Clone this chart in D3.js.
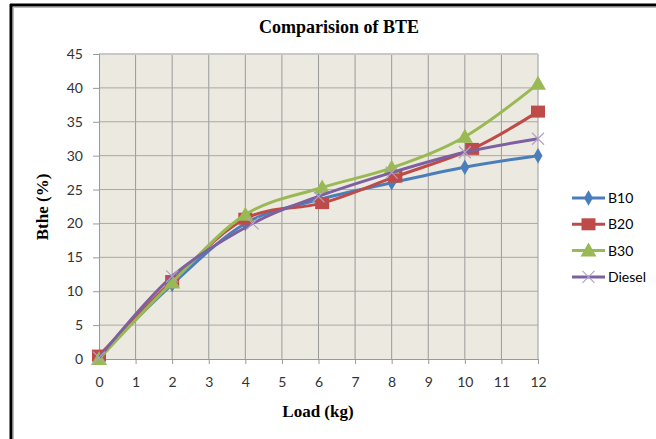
<!DOCTYPE html>
<html>
<head>
<meta charset="utf-8">
<script src="https://cdn.jsdelivr.net/npm/d3@7"></script>
<style>
  body { margin: 0; background: #fff; }
  .tick text { font-family: Lato, "Open Sans", sans-serif; font-size: 14px; fill: #333; }
  .ttl { font-family: "Liberation Serif", "Times New Roman", serif; font-weight: bold; fill: #000; }
  .leg { font-family: Lato, "Open Sans", sans-serif; font-size: 14px; fill: #000; }
</style>
</head>
<body>
<script>
var loads = [0, 2, 4, 6, 8, 10, 12];
var b10 = [0.3, 11, 20, 23.5, 26, 28.3, 30];
var b20x = [0, 2, 4, 6.1, 8.1, 10.2, 12];
var b20 = [0.5, 11.5, 20.7, 23, 26.9, 31, 36.5];
var b30x = [0, 2, 4, 6.1, 8, 10, 12];
var b30 = [0, 11.3, 21.3, 25.3, 28.2, 32.8, 40.6];
var dieselx = [0, 2, 4.2, 6, 8, 10, 12];
var diesel = [0.2, 12.2, 20, 24, 27.5, 30.5, 32.5];
var xTicks = d3.range(0, 13);
var yTicks = d3.range(0, 50, 5);

var width = 656, height = 439;
var plot = { left: 99, right: 538, top: 54, bottom: 359 };

var svg = d3.select('body').append('svg')
    .attr('width', width)
    .attr('height', height);

// frame
svg.append('rect').attr('x', 0).attr('y', 0).attr('width', width).attr('height', height).attr('fill', '#fff');
svg.append('line').attr('x1', 11).attr('x2', 11).attr('y1', 4).attr('y2', height).attr('stroke', '#000').attr('stroke-width', 3);
svg.append('line').attr('x1', 10).attr('x2', width).attr('y1', 5).attr('y2', 5).attr('stroke', '#000').attr('stroke-width', 3);
svg.append('line').attr('x1', 13.5).attr('x2', 13.5).attr('y1', 7).attr('y2', height).attr('stroke', '#bbb').attr('stroke-width', 1);
svg.append('line').attr('x1', 13).attr('x2', width).attr('y1', 7.5).attr('y2', 7.5).attr('stroke', '#bbb').attr('stroke-width', 1);

var x = d3.scaleLinear().domain([0, 12]).range([plot.left, plot.right]);
var y = d3.scaleLinear().domain([0, 45]).range([plot.bottom, plot.top]);

svg.append('rect')
    .attr('x', plot.left).attr('y', plot.top)
    .attr('width', plot.right - plot.left).attr('height', plot.bottom - plot.top)
    .attr('fill', '#ECE9E0');

// grid
svg.append('g').selectAll('line.v').data(xTicks.slice(1)).enter().append('line')
    .attr('x1', function(d) { return x(d); }).attr('x2', function(d) { return x(d); })
    .attr('y1', plot.top).attr('y2', plot.bottom)
    .attr('stroke', '#9a9a9a').attr('stroke-width', 1);
svg.append('g').selectAll('line.h').data(yTicks.slice(1)).enter().append('line')
    .attr('x1', plot.left).attr('x2', plot.right)
    .attr('y1', function(d) { return y(d); }).attr('y2', function(d) { return y(d); })
    .attr('stroke', function(d) { return d === 45 ? '#c8c8c8' : '#a8a8a8'; })
    .attr('stroke-width', function(d) { return d === 45 ? 2 : 1; });

// axes
var xAxis = svg.append('g')
    .attr('transform', 'translate(0,' + plot.bottom + ')')
    .call(d3.axisBottom(x).tickValues(xTicks).tickSize(5).tickPadding(13));
var yAxis = svg.append('g')
    .attr('transform', 'translate(' + plot.left + ',0)')
    .call(d3.axisLeft(y).tickValues(yTicks).tickSize(6).tickPadding(10));
[xAxis, yAxis].forEach(function(a) {
  a.select('.domain').attr('stroke', '#999');
  a.selectAll('.tick line').attr('stroke', '#999');
});

// series
var series = [
  { name: 'B10', xs: loads, ys: b10, color: '#4A7EBB', marker: 'diamond' },
  { name: 'B20', xs: b20x, ys: b20, color: '#BE4B48', marker: 'square' },
  { name: 'B30', xs: b30x, ys: b30, color: '#98B954', marker: 'triangle' },
  { name: 'Diesel', xs: dieselx, ys: diesel, color: '#7D60A0', marker: 'cross' }
];

var line = d3.line()
    .x(function(d) { return x(d[0]); })
    .y(function(d) { return y(d[1]); })
    .curve(d3.curveCatmullRom.alpha(0));

function drawMarker(g, type, cx, cy, color) {
  if (type === 'diamond') {
    g.append('path').attr('d', d3.symbol(d3.symbolDiamond, 70)())
        .attr('transform', 'translate(' + cx + ',' + cy + ')').attr('fill', color);
  } else if (type === 'square') {
    g.append('rect').attr('x', cx - 7).attr('y', cy - 6).attr('width', 14).attr('height', 12).attr('fill', color);
  } else if (type === 'triangle') {
    g.append('path').attr('d', 'M' + cx + ',' + (cy - 8) + 'L' + (cx + 8) + ',' + (cy + 6) + 'L' + (cx - 8) + ',' + (cy + 6) + 'Z')
        .attr('fill', color);
  } else {
    g.append('path').attr('d', 'M' + (cx - 6) + ',' + (cy - 6) + 'L' + (cx + 6) + ',' + (cy + 6) + 'M' + (cx + 6) + ',' + (cy - 6) + 'L' + (cx - 6) + ',' + (cy + 6))
        .attr('stroke', '#B3A2C7').attr('stroke-width', 1.2).attr('fill', 'none');
  }
}

series.forEach(function(s) {
  var pts = s.xs.map(function(v, i) { return [v, s.ys[i]]; });
  var g = svg.append('g');
  g.append('path').datum(pts).attr('d', line)
      .attr('fill', 'none').attr('stroke', s.color).attr('stroke-width', 3);
  pts.forEach(function(p) { drawMarker(g, s.marker, x(p[0]), y(p[1]), s.color); });
});

// legend
series.forEach(function(s, i) {
  var ly = 198 + i * 26.3;
  var g = svg.append('g');
  g.append('line').attr('x1', 572).attr('x2', 605).attr('y1', ly).attr('y2', ly)
      .attr('stroke', s.color).attr('stroke-width', 3);
  drawMarker(g, s.marker, 588.5, ly, s.color);
  g.append('text').attr('class', 'leg').attr('x', 608).attr('y', ly + 5).text(s.name);
});

// titles
svg.append('text').attr('class', 'ttl').attr('x', 339).attr('y', 33)
    .attr('text-anchor', 'middle').style('font-size', '18px').text('Comparision of BTE');
svg.append('text').attr('class', 'ttl').attr('x', 318).attr('y', 417)
    .attr('text-anchor', 'middle').style('font-size', '17px').text('Load (kg)');
svg.append('text').attr('class', 'ttl')
    .attr('transform', 'translate(48,207) rotate(-90)')
    .attr('text-anchor', 'middle').style('font-size', '17px').text('Bthe (%)');
</script>
</body>
</html>
